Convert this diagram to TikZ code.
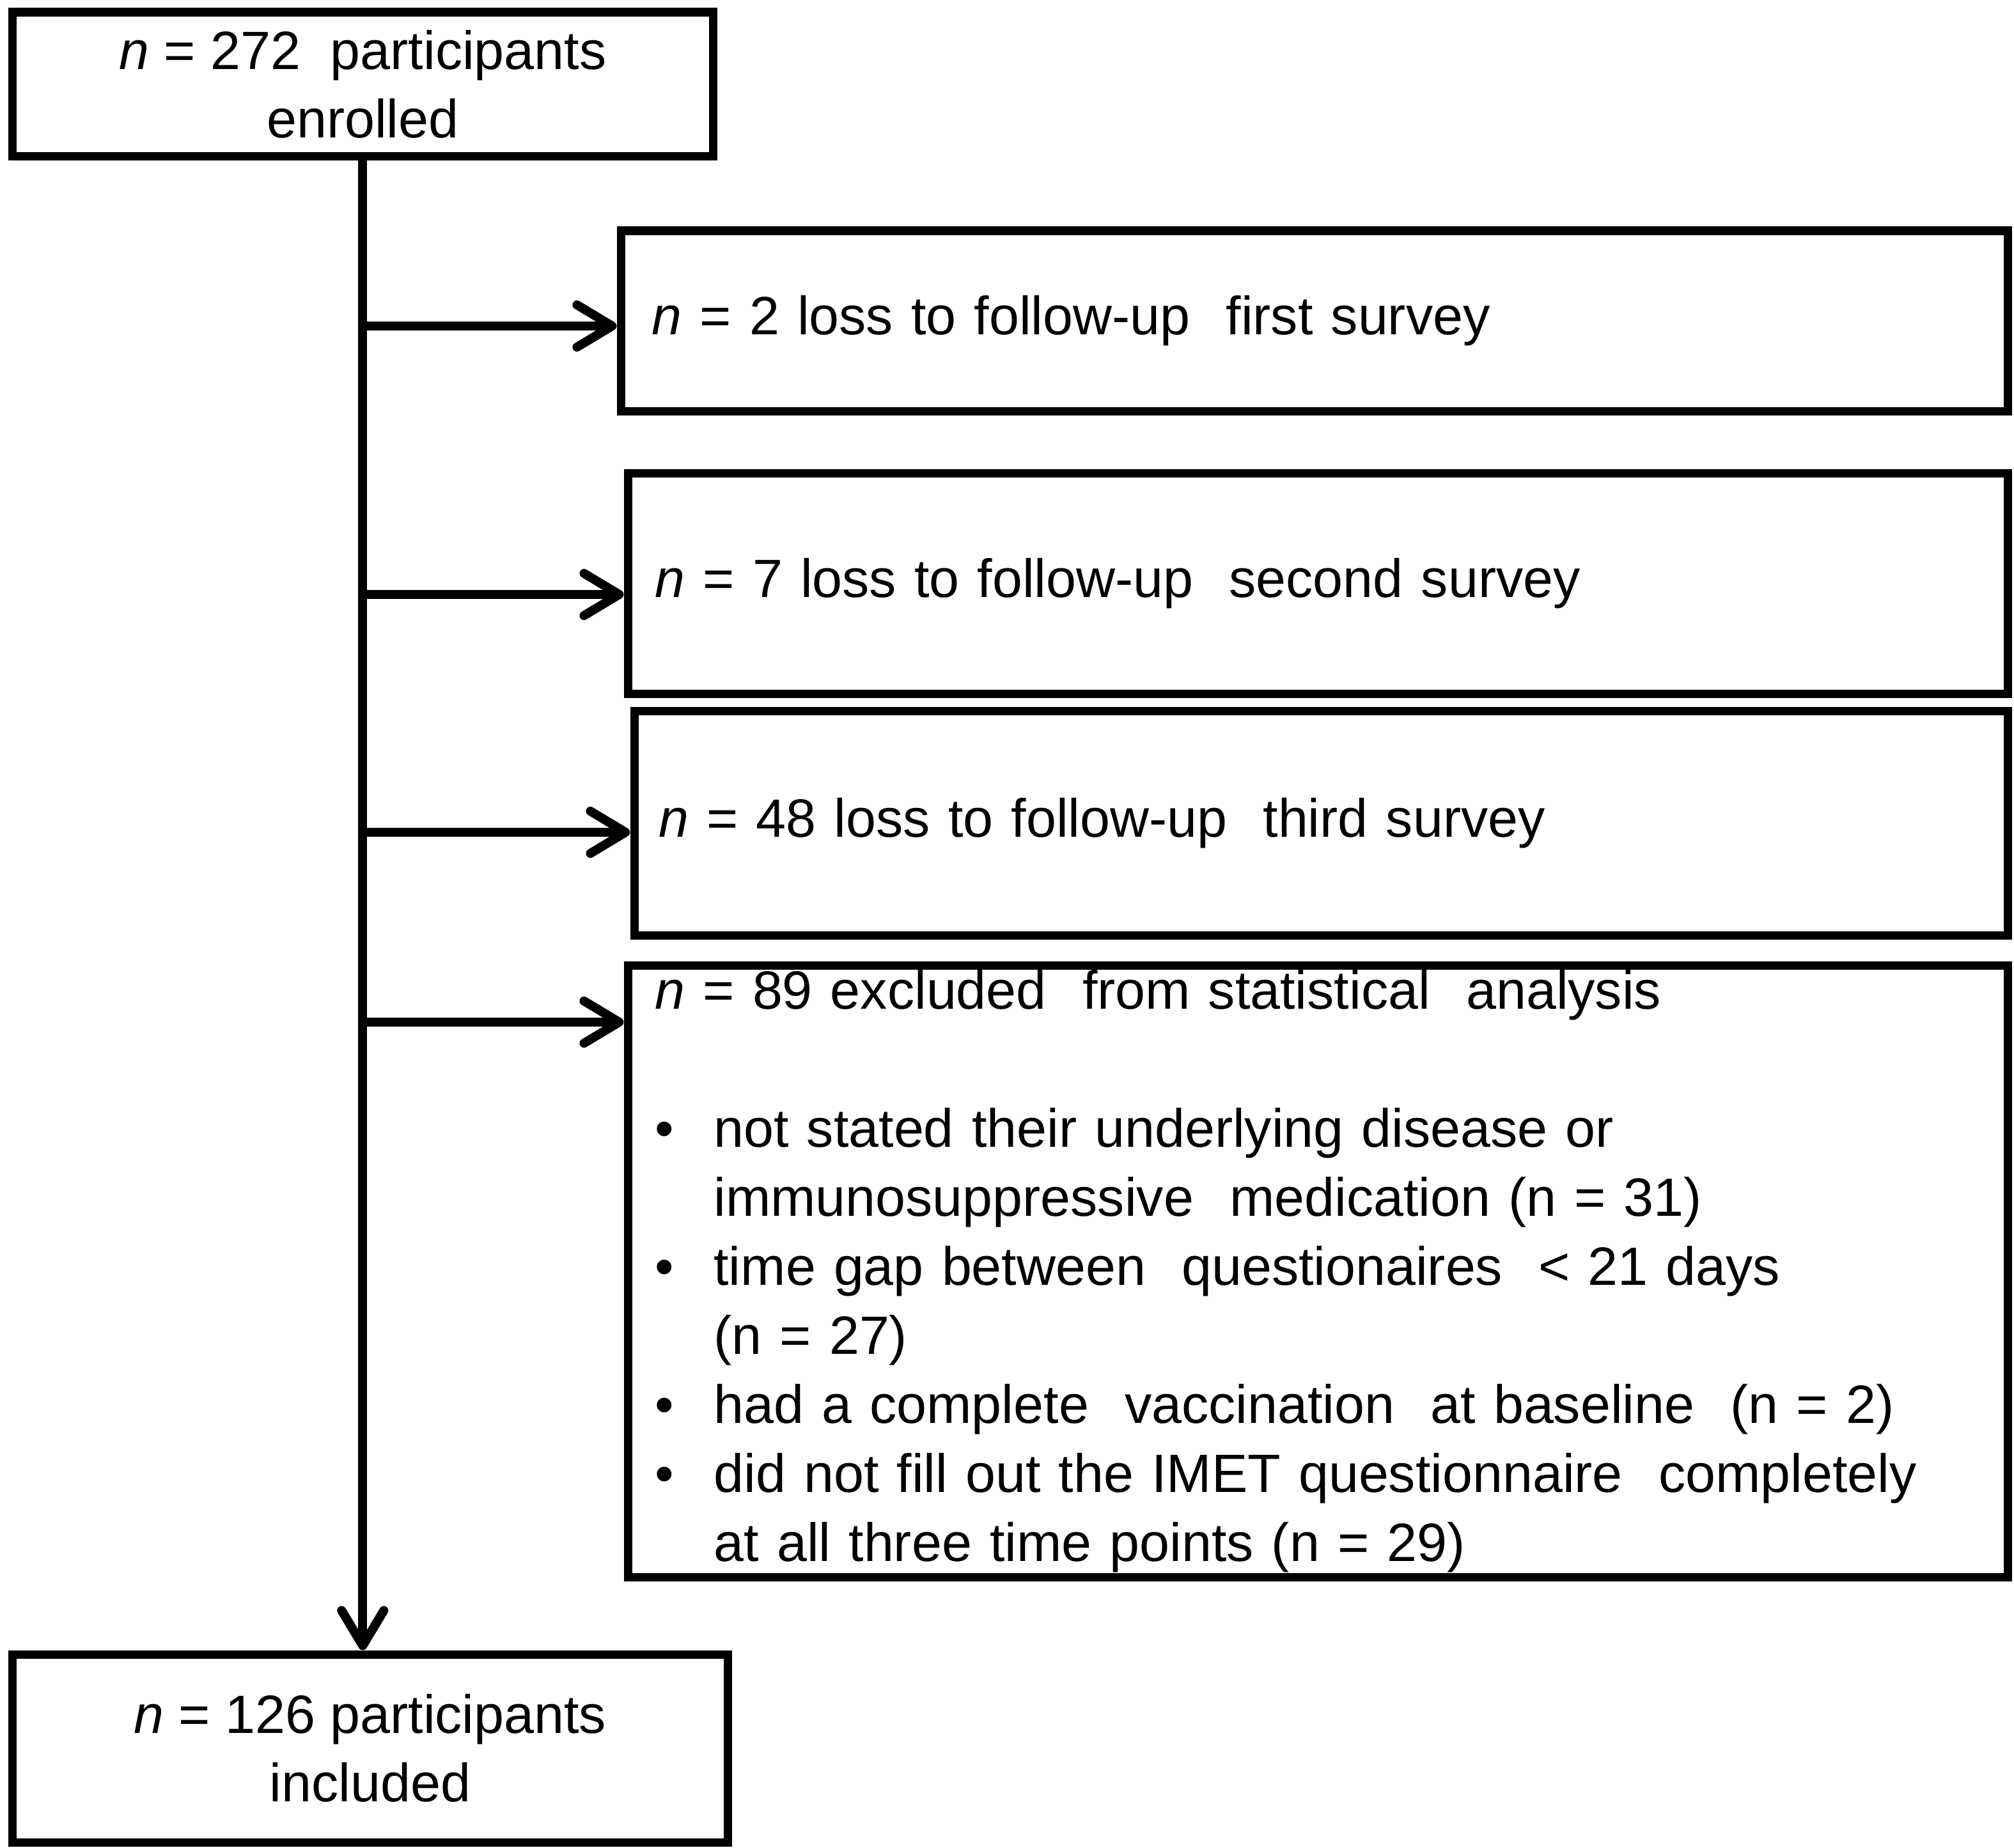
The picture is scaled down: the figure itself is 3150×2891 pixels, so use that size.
\documentclass[tikz,border=0pt]{standalone}
\usepackage{fontspec}
\setmainfont{Liberation Sans}
\usetikzlibrary{arrows.meta}
\newcommand\myitem[1]{\makebox[0.92cm][l]{\textbullet}#1}
\newcommand\mycont[1]{\hspace*{0.92cm}#1}
\begin{document}
\begin{tikzpicture}[x=0.01cm,y=-0.01cm,
  box/.style={draw, line width=3.7pt, inner sep=0pt, anchor=north west,
    font=\fontsize{24}{30.45}\selectfont},
  arr/.style={line width=4pt, -{Straight Barb[length=5.5mm,width=6.6mm,round]}}]
\useasboundingbox (0,0) rectangle (3150,2891);

\node[box, align=center, minimum width=10.96cm, minimum height=2.25cm] (top) at (12.5,12.5)
  {\textit{n} = 272\ \ participants\\enrolled};

\node[box, align=left, text width=20.71cm, minimum width=21.68cm, minimum height=2.82cm] (b1) at (964.5,354.5)
  {\textit{n} = 2 loss to follow-up\ \ first survey};

\node[box, align=left, text width=20.72cm, minimum width=21.57cm, minimum height=3.45cm] (b2) at (975.5,733.5)
  {\textit{n} = 7 loss to follow-up\ \ second survey};

\node[box, align=left, text width=20.70cm, minimum width=21.47cm, minimum height=3.51cm] (b3) at (985.5,1105.5)
  {\textit{n} = 48 loss to follow-up\ \ third survey};

\node[box, align=left, text width=20.72cm, minimum width=21.57cm, minimum height=9.57cm,
  font=\fontsize{24}{30.7}\selectfont] (b4) at (975.5,1503.5)
  {\textit{n} = 89 excluded\ \ from statistical\ \ analysis\\[30.7pt]
   \myitem{not stated their underlying disease or}\\
   \mycont{immunosuppressive\ \ medication (n = 31)}\\
   \myitem{time gap between\ \ questionaires\ \ < 21 days}\\
   \mycont{(n = 27)}\\
   \myitem{had a complete\ \ vaccination\ \ at baseline\ \ (n = 2)}\\
   \myitem{did not fill out the IMET questionnaire\ \ completely}\\
   \mycont{at all three time points (n = 29)}};

\node[box, align=center, minimum width=11.19cm, minimum height=2.94cm] (bot) at (12.5,2581.5)
  {\textit{n} = 126 participants\\included};

\coordinate (j1) at (562.5,510);
\coordinate (j2) at (562.5,930);
\coordinate (j3) at (562.5,1302);
\coordinate (j4) at (562.5,1599);

\draw[arr] (top.south) -- (top.south |- bot.north);
\draw[arr] (j1) -- (b1.west |- j1);
\draw[arr] (j2) -- (b2.west |- j2);
\draw[arr] (j3) -- (b3.west |- j3);
\draw[arr] (j4) -- (b4.west |- j4);
\end{tikzpicture}
\end{document}
